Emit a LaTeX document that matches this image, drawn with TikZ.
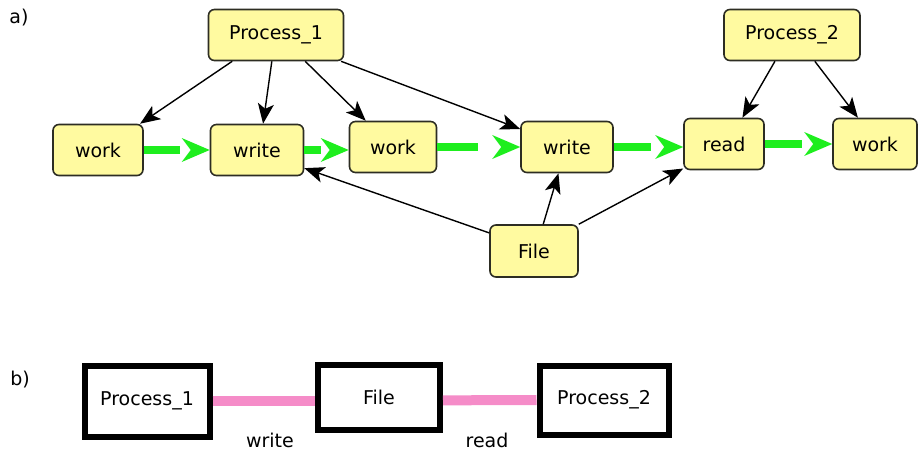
\documentclass[tikz,border=0pt]{standalone}
\usepackage{fontspec}
\setmainfont{DejaVu Sans}
\usetikzlibrary{calc}
\usetikzlibrary{arrows.meta, decorations.markings}
\definecolor{boxyellow}{RGB}{255,250,160}
\definecolor{boxedge}{RGB}{45,45,35}
\definecolor{flowgreen}{RGB}{30,238,30}
\definecolor{linkpink}{RGB}{245,140,200}

\begin{document}
\begin{tikzpicture}[
		x=0.5pt, y=-0.5pt,
		font=\fontsize{9.5}{11}\selectfont,
		task/.style={draw=boxedge, line width=0.8pt, fill=boxyellow, rounded corners=3pt,
			inner sep=0pt, minimum height=25.5pt},
		call/.style={draw=black, line width=0.7pt, -{Stealth[length=10pt,width=8pt,inset=2.5pt]}},
		flow/.style={flowgreen, line width=4pt, shorten >=#1,
			postaction={draw=none, decorate, decoration={markings,
				mark=at position 1 with {\arrow[flowgreen]{Stealth[length=14pt,width=12pt,inset=4.5pt,line width=0pt]}}}}},
		flow/.default=15pt,
		part/.style={draw=black, line width=3pt, fill=white, inner sep=0pt},
		link/.style={linkpink, line width=5pt},
	]
	\useasboundingbox (0,0) rectangle (918,450);
	% a)
	\node (la) at (19,18) {a)};
	\node[task, minimum width=67.5pt] (proc1) at (276,35) {Process\_1};
	\node[task, minimum width=68pt] (proc2) at (792,35) {Process\_2};
	\node[task, minimum width=45pt] (work1) at (98,150) {work};
	\node[task, minimum width=46.5pt] (write1) at (257,150) {write};
	\node[task, minimum width=43.5pt] (work2) at (393,147) {work};
	\node[task, minimum width=46pt] (write2) at (567,147) {write};
	\node[task, minimum width=40pt] (read) at (724,144) {read};
	\node[task, minimum width=42pt] (work3) at (875,144) {work};
	\node[task, minimum width=44pt, minimum height=26pt] (file) at (534,251) {File};
	\draw[call] (proc1.211) -- (work1.32);
	\draw[call] (proc1.261) -- (write1.77);
	\draw[call] (proc1.318) -- (work2.136);
	\draw[call] (proc1.338) -- (write2.159);
	\draw[call] (proc2.237) -- (read.55);
	\draw[call] (proc2.311) -- (work3.123);
	\draw[call] (file.158) -- (write1.-21);
	\draw[call] (file.71) -- (write2.252);
	\draw[call] (file.north east) -- (read.211);
	\draw[flow] (work1.east) -- (work1.east -| write1.west);
	\draw[flow=14pt] (write1.east) -- (write1.east -| work2.west);
	\draw[flow=21pt] (work2.east) -- (work2.east -| write2.west);
	\draw[flow=16pt] (write2.east) -- (write2.east -| read.west);
	\draw[flow] (read.east) -- (read.east -| work3.west);
	% b)
	\node (lb) at (20,380) {b)};
	\node[part, minimum width=62.5pt, minimum height=35.5pt] (proc1b) at (147,401) {Process\_1};
	\node[part, minimum width=61pt, minimum height=32.5pt] (fileb) at (379,397) {File};
	\node[part, minimum width=64.5pt, minimum height=34.5pt] (proc2b) at (604,400) {Process\_2};
	\draw[link] (proc1b.east) -- (proc1b.east -| fileb.west);
	\draw[link] (fileb.-3) -- (proc2b.west);
	\node (wr) at (270,440) {write};
	\node (rd) at (487,440) {read};
\end{tikzpicture}
\end{document}
